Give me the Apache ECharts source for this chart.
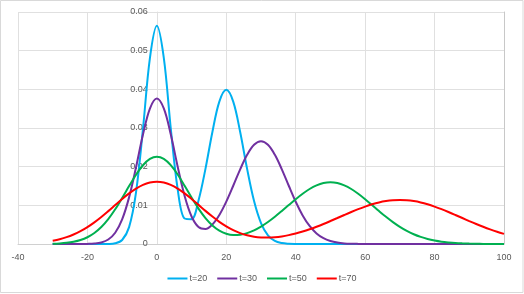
<!DOCTYPE html>
<html>
<head>
<meta charset="utf-8">
<script src="https://cdn.jsdelivr.net/npm/echarts@6/dist/echarts.min.js"></script>
<style>
html,body{margin:0;padding:0;background:#fff;}
#c{width:524px;height:294px;}
</style>
</head>
<body>
<div id="c"></div>
<script>
var xs = [-30,-28,-26,-24,-22,-20,-18,-16,-14,-12,-10,-8,-6,-4,-2,0,2,4,6,8,10,12,14,16,18,20,22,24,26,28,30,32,34,36,38,40,42,44,46,48,50,52,54,56,58,60,62,64,66,68,70,72,74,76,78,80,82,84,86,88,90,92,94,96,98,100];

var t20 = [0,0,0,0,0,0,0,0,0.00002,0.00018,0.00103,0.00436,0.01337,0.02975,0.04808,0.05643,0.04814,0.02999,0.01416,0.00660,0.00643,0.01127,0.01944,0.02897,0.03683,0.03989,0.03683,0.02897,0.01942,0.01109,0.00540,0.00224,0.00079,0.00024,0.00006,0.00001,0,0,0,0,0,0,0,0,0,0,0,0,0,0,0,0,0,0,0,0,0,0,0,0,0,0,0,0,0,0];

var t30 = [0,0,0,0,0.00001,0.00003,0.00012,0.00040,0.00115,0.00291,0.00636,0.01206,0.01983,0.02830,0.03503,0.03762,0.03506,0.02837,0.01999,0.01242,0.00712,0.00440,0.00389,0.00506,0.00751,0.01096,0.01506,0.01931,0.02307,0.02567,0.02660,0.02567,0.02307,0.01931,0.01506,0.01093,0.00740,0.00466,0.00273,0.00149,0.00076,0.00036,0.00016,0.00007,0.00003,0.00001,0,0,0,0,0,0,0,0,0,0,0,0,0,0,0,0,0,0,0,0];

var t50 = [0.00007,0.00015,0.00030,0.00057,0.00102,0.00175,0.00284,0.00439,0.00644,0.00898,0.01190,0.01498,0.01792,0.02037,0.02200,0.02257,0.02201,0.02039,0.01796,0.01504,0.01200,0.00914,0.00669,0.00478,0.00344,0.00264,0.00232,0.00240,0.00282,0.00354,0.00451,0.00569,0.00705,0.00853,0.01007,0.01159,0.01300,0.01422,0.01516,0.01576,0.01596,0.01576,0.01516,0.01422,0.01300,0.01159,0.01007,0.00852,0.00703,0.00566,0.00444,0.00339,0.00253,0.00184,0.00130,0.00090,0.00060,0.00040,0.00025,0.00016,0.00010,0.00006,0.00003,0.00002,0.00001,0.00001];

var t70 = [0.00085,0.00125,0.00177,0.00246,0.00332,0.00437,0.00560,0.00699,0.00850,0.01007,0.01163,0.01308,0.01433,0.01530,0.01591,0.01612,0.01592,0.01531,0.01434,0.01310,0.01166,0.01012,0.00857,0.00709,0.00573,0.00456,0.00358,0.00282,0.00226,0.00189,0.00169,0.00165,0.00174,0.00196,0.00229,0.00271,0.00322,0.00381,0.00447,0.00518,0.00594,0.00672,0.00751,0.00828,0.00901,0.00968,0.01027,0.01075,0.01110,0.01132,0.01140,0.01132,0.01110,0.01075,0.01027,0.00968,0.00901,0.00828,0.00751,0.00672,0.00593,0.00517,0.00445,0.00378,0.00317,0.00262];

var seriesNames = ['t=20','t=30','t=50','t=70'];
var seriesValues = [t20, t30, t50, t70];
var colors = ['#00b0f0','#7030a0','#00b050','#ff0000'];
var xMin = -40;

function pairs(vals){ return xs.map(function(x,i){ return [x, vals[i]]; }); }

var chart = echarts.init(document.getElementById('c'));
var font = 'Liberation Sans';
chart.setOption({
  animation: false,
  backgroundColor: '#ffffff',
  color: colors,
  graphic: [{
    type: 'rect', silent: true,
    shape: {x: 0.5, y: 0.5, width: 522.5, height: 292},
    style: {fill: null, stroke: '#d9d9d9', lineWidth: 1}
  }],
  grid: {left: 18, right: 20, top: 12, bottom: 50, containLabel: false, outerBoundsMode: 'none'},
  legend: {
    bottom: 6, left: 'center',
    icon: 'rect',
    itemWidth: 20, itemHeight: 2, itemGap: 10,
    textStyle: {fontFamily: font, fontSize: 9, color: '#595959', padding: [0,0,0,-3]},
    data: seriesNames
  },
  xAxis: {
    type: 'value', min: xMin, max: 100, interval: 20,
    axisLine: {show: true, onZero: false, lineStyle: {color: '#d0d0d0', width: 1}},
    axisTick: {show: false},
    axisLabel: {fontFamily: font, fontSize: 9, color: '#595959', margin: 9},
    splitLine: {show: true, lineStyle: {color: '#e0e0e0', width: 1}}
  },
  yAxis: [{
    type: 'value', min: 0, max: 0.06, interval: 0.01,
    axisLine: {show: true, onZero: false, lineStyle: {color: '#e0e0e0', width: 1}},
    axisTick: {show: false},
    axisLabel: {fontFamily: font, fontSize: 9, color: '#595959', margin: 9},
    splitLine: {show: true, lineStyle: {color: '#e0e0e0', width: 1}}
  }, {
    type: 'value', min: 0, max: 0.06, interval: 0.01, position: 'right',
    axisLine: {show: true, onZero: false, lineStyle: {color: '#c8c8c8', width: 1}},
    axisTick: {show: false}, axisLabel: {show: false}, splitLine: {show: false}
  }],
  series: seriesNames.map(function(n, i){
    return {
      name: n, type: 'line', data: pairs(seriesValues[i]),
      smooth: 0.35, symbol: 'none', showSymbol: false,
      lineStyle: {width: 2, color: colors[i]},
      itemStyle: {color: colors[i]}
    };
  })
});
// place the value axis where x = 0, as in the reference
var px0 = chart.convertToPixel({xAxisIndex: 0}, 0);
var pxMin = chart.convertToPixel({xAxisIndex: 0}, xMin);
chart.setOption({yAxis: [{offset: -(px0 - pxMin)}, {}]});
</script>
</body>
</html>
